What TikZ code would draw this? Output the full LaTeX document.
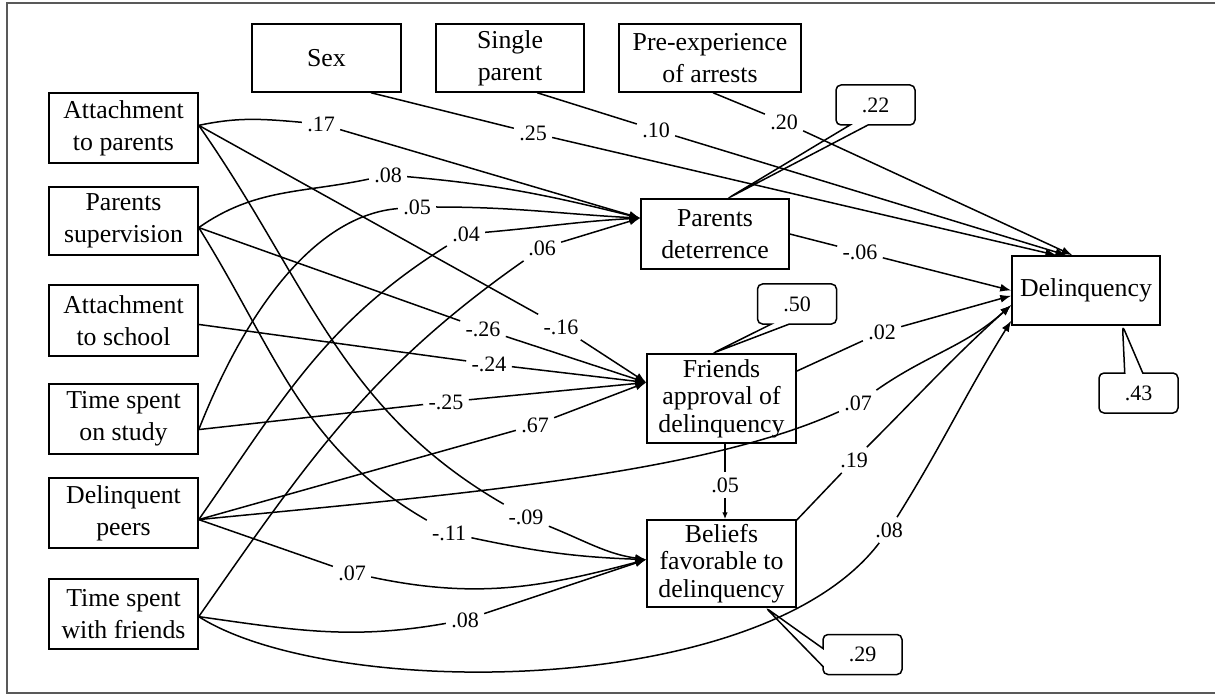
\documentclass[tikz,border=0pt]{standalone}
\usepackage{fontspec}
\setmainfont{Liberation Serif}
\usetikzlibrary{arrows.meta,shapes.callouts}
\begin{document}
\begin{tikzpicture}[x=0.5pt,y=0.5pt,
  box/.style={draw, line width=0.75pt, align=center, inner sep=0pt, font=\fontsize{12.9}{16}\selectfont},
  box3/.style={box, font=\fontsize{12.9}{13.8}\selectfont},
  lbl/.style={inner sep=2.5pt, font=\fontsize{11}{12}\selectfont},
  ln/.style={line width=0.75pt},
  arr/.style={ln, -{Latex[length=5.5pt,width=4pt]}},
  sarr/.style={ln, -{Latex[length=3.5pt,width=2.8pt]}},
  co/.style={rectangle callout, draw, line width=0.75pt, rounded corners=2.5pt,
    minimum width=39.5pt, minimum height=20pt, inner sep=0pt,
    callout pointer width=9pt, font=\fontsize{11}{12}\selectfont}]
\useasboundingbox (0,0) rectangle (1215,-695);
% frame
\draw[line width=0.7pt, black!65] (1215,-3) -- (7,-3) -- (7,-693) -- (1215,-693);

% boxes
\node[box, minimum width=74.5pt, minimum height=35pt] (ap) at (123.5,-128) {Attachment\\to parents};
\node[box, minimum width=74.5pt, minimum height=34pt] (ps) at (123.5,-221) {Parents\\supervision};
\node[box, minimum width=74.5pt, minimum height=35.5pt] (as) at (123.5,-320.5) {Attachment\\to school};
\node[box, minimum width=74.5pt, minimum height=35pt] (ts) at (123.5,-419) {Time spent\\on study};
\node[box, minimum width=74.5pt, minimum height=35pt] (dp) at (123.5,-513) {Delinquent\\peers};
\node[box, minimum width=74.5pt, minimum height=35pt] (tf) at (123.5,-614) {Time spent\\with friends};
\node[box, minimum width=74.5pt, minimum height=34pt] (sex) at (326.5,-58) {Sex};
\node[box, minimum width=74pt, minimum height=34pt] (sp) at (510,-58) {Single\\parent};
\node[box, minimum width=91pt, minimum height=34pt] (pe) at (710,-58) {Pre-experience\\of arrests};
\node[box, minimum width=74pt, minimum height=35pt] (pd) at (715,-234) {Parents\\deterrence};
\node[box3, minimum width=74.5pt, minimum height=44.5pt] (fa) at (721.5,-398.5) {Friends\\approval of\\delinquency};
\node[box3, minimum width=74.5pt, minimum height=43.5pt] (bf) at (721.5,-563.5) {Beliefs\\favorable to\\delinquency};
\node[box, minimum width=74pt, minimum height=34.5pt] (dq) at (1086,-290.5) {Delinquency};

% path labels
\node[lbl] (l17) at (321,-124) {.17};
\node[lbl] (l08a) at (388,-175) {.08};
\node[lbl] (l05a) at (417,-207) {.05};
\node[lbl] (l04) at (466,-234) {.04};
\node[lbl] (l06) at (542,-248) {.06};
\node[lbl] (l16) at (561,-327) {-.16};
\node[lbl] (l26) at (483,-329) {-.26};
\node[lbl] (l24) at (489,-364) {-.24};
\node[lbl] (l25b) at (446,-402) {-.25};
\node[lbl] (l67) at (535,-425) {.67};
\node[lbl] (l09) at (526,-517) {-.09};
\node[lbl] (l11) at (449,-533) {-.11};
\node[lbl] (l07a) at (352,-573) {.07};
\node[lbl] (l08b) at (465,-620) {.08};
\node[lbl] (l25) at (533,-133) {.25};
\node[lbl] (l10) at (656,-130) {.10};
\node[lbl] (l20) at (784,-122) {.20};
\node[lbl] (l06b) at (860,-252) {-.06};
\node[lbl] (l02) at (882,-332) {.02};
\node[lbl] (l07b) at (858,-403) {.07};
\node[lbl] (l19) at (854,-460) {.19};
\node[lbl] (l08c) at (889,-530) {.08};
\node[lbl] (l05b) at (725,-485) {.05};

% to Parents deterrence
\draw[ln] (ap.2) to[out=12,in=175] (l17);
\draw[arr] (l17) -- (pd.168);
\draw[ln] (ps.-5) to[out=35,in=192] (l08a);
\draw[arr] (l08a) to[out=-5,in=166] (pd.168);
\draw[ln] (ts.-8) .. controls (250,-300) and (320,-215) .. (l05a);
\draw[arr] (l05a) to[out=0,in=177] (pd.168);
\draw[ln] (dp.-5) to[out=55,in=212] (l04);
\draw[arr] (l04) to[out=5,in=183] (pd.168);
\draw[ln] (tf.-2) to[out=55,in=215] (l06);
\draw[arr] (l06) -- (pd.168);

% to Friends approval
\draw[ln] (ap.2) -- (l16);
\draw[arr] (l16) -- (fa.168);
\draw[ln] (ps.-5) -- (l26);
\draw[arr] (l26) -- (fa.168);
\draw[ln] (as.-3) -- (l24);
\draw[arr] (l24) -- (fa.168);
\draw[ln] (ts.-8) -- (l25b);
\draw[arr] (l25b) -- (fa.168);
\draw[ln] (dp.-5) -- (l67);
\draw[arr] (l67) -- (fa.168);

% to Beliefs
\draw[ln] (ap.2) to[out=-55,in=150] (l09);
\draw[arr] (l09) to[out=-22,in=172] (bf.177);
\draw[ln] (ps.-5) to[out=-58,in=150] (l11);
\draw[arr] (l11) to[out=-12,in=178] (bf.177);
\draw[ln] (dp.-5) -- (l07a);
\draw[arr] (l07a) to[out=-12,in=195] (bf.177);
\draw[ln] (tf.-2) to[out=-8,in=190] (l08b);
\draw[arr] (l08b) -- (bf.177);
\draw[ln] (fa.south -| l05b) -- (l05b);
\draw[sarr] (l05b) -- (bf.north -| l05b);

% to Delinquency
\draw[ln] (sex.-38) -- (l25);
\draw[arr] (l25) -- (dq.130);
\draw[ln] (sp.-52) -- (l10);
\draw[arr] (l10) -- (dq.119);
\draw[ln] (pe.-85) -- (l20);
\draw[arr] (l20) -- (dq.111);
\draw[ln] (pd.east) -- (l06b);
\draw[arr] (l06b) -- (dq.west);
\draw[ln] (fa.20) -- (l02);
\draw[arr] (l02) -- (dq.184);
\draw[ln] (dp.-5) .. controls (450,-495) and (700,-475) .. (l07b);
\draw[arr] (l07b) to[out=35,in=222] (dq.191);
\draw[ln] (bf.30) -- (l19);
\draw[arr] (l19) to[out=45,in=222] (dq.191);
\draw[ln] (tf.-2) .. controls (330,-700) and (760,-700) .. (l08c);
\draw[arr] (l08c) to[out=58,in=238] (dq.202);

% residual callouts
\node[co, callout absolute pointer={(pd.70)}] (c22) at (875.5,-105) {.22};
\node[co, callout absolute pointer={(fa.101)}] (c50) at (797,-304) {.50};
\node[co, callout absolute pointer={(dq.-44)}] (c43) at (1138.5,-393) {.43};
\node[co, callout absolute pointer={(bf.-45)}] (c29) at (862.5,-654.5) {.29};
\end{tikzpicture}
\end{document}
